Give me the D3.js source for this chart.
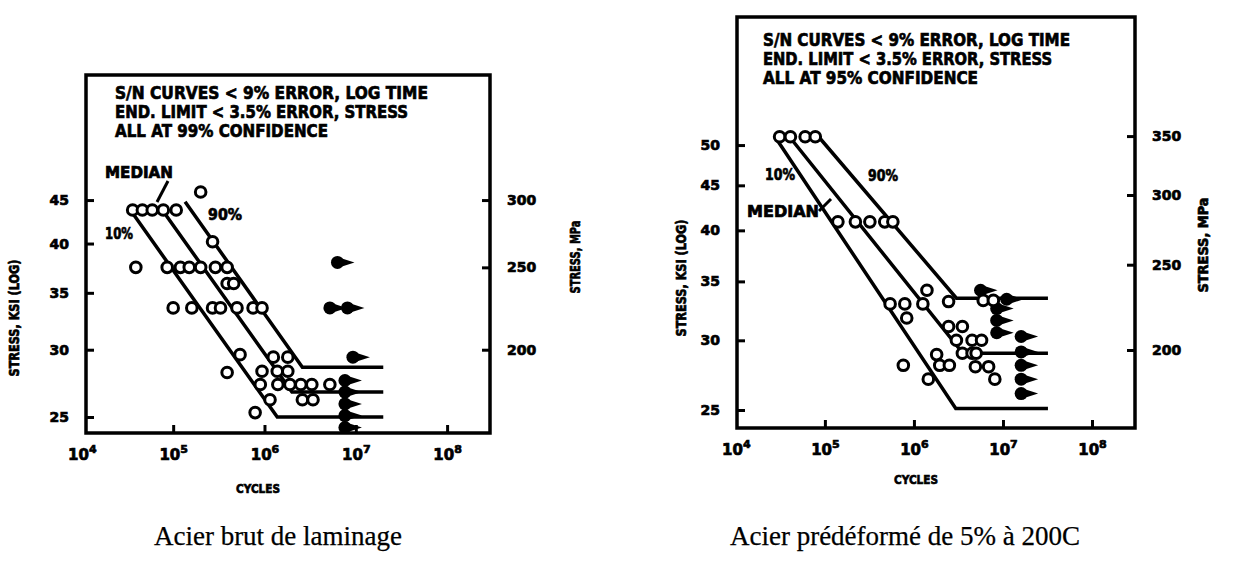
<!DOCTYPE html>
<html>
<head>
<meta charset="utf-8">
<script src="https://cdn.jsdelivr.net/npm/d3@7"></script>
<style>
body { margin: 0; background: #fff; }
.lab { font-family: "DejaVu Sans", sans-serif; font-weight: bold; fill: #000; stroke: #000; stroke-width: 0.7; }
.cap { font-family: "Liberation Serif", "Times New Roman", serif; fill: #000; stroke: #000; stroke-width: 0.25; }
</style>
</head>
<body>
<div class="diagram"></div>
<script>
var width = 1234, height = 561;

// axis ticks
var cycleTicks = [1e4, 1e5, 1e6, 1e7, 1e8];
var cycleExps = ['4', '5', '6', '7', '8'];
var ksiTicksA = [25, 30, 35, 40, 45];
var ksiTicksB = [25, 30, 35, 40, 45, 50];
var mpaTicksA = [200, 250, 300];
var mpaTicksB = [200, 250, 300, 350];

// note in the box
var noteA = ['S/N CURVES < 9% ERROR, LOG TIME', 'END. LIMIT < 3.5% ERROR, STRESS', 'ALL AT 99% CONFIDENCE'];
var noteB = ['S/N CURVES < 9% ERROR, LOG TIME', 'END. LIMIT < 3.5% ERROR, STRESS', 'ALL AT 95% CONFIDENCE'];

// left panel: as rolled  [cycles, ksi]
var curveA10 = [[3.4e4, 43.8], [1.38e6, 25.0], [2.0e7, 25.0]];
var curveAMed = [[7.6e4, 43.8], [2.0e6, 26.75], [2.0e7, 26.75]];
var curveA90 = [[1.35e5, 44.8], [2.6e6, 28.6], [2.0e7, 28.6]];
var failA = [
  [3.6e4, 43.8], [4.6e4, 43.8], [5.9e4, 43.8], [7.8e4, 43.8], [1.08e5, 43.8],
  [2.0e5, 46.0], [2.7e5, 40.2], [3.9e4, 37.5],
  [8.6e4, 37.5], [1.2e5, 37.5], [1.5e5, 37.5], [2.0e5, 37.5], [2.9e5, 37.5], [3.9e5, 37.5],
  [3.9e5, 35.9], [4.6e5, 35.9],
  [1.0e5, 33.6], [1.6e5, 33.6], [2.7e5, 33.6], [3.3e5, 33.6], [5.0e5, 33.6], [7.5e5, 33.6], [9.4e5, 33.6],
  [5.4e5, 29.6], [3.9e5, 28.2], [1.25e6, 29.4], [1.8e6, 29.4],
  [9.4e5, 28.3], [1.38e6, 28.3], [1.8e6, 28.3],
  [9.0e5, 27.3], [1.4e6, 27.3], [1.9e6, 27.3], [2.5e6, 27.3], [3.3e6, 27.3], [5.2e6, 27.3],
  [1.15e6, 26.2], [2.6e6, 26.2], [3.4e6, 26.2], [7.9e5, 25.3]
];
var runoutA = [
  [6.3e6, 38.0], [5.2e6, 33.6], [8.1e6, 33.6], [9.3e6, 29.4],
  [7.6e6, 27.6], [7.6e6, 26.75], [7.6e6, 25.9], [7.6e6, 25.1], [7.6e6, 24.3]
];

// right panel: 5% prestrained at 200C
var curveB10 = [[2.75e4, 51.1], [2.95e6, 25.1], [3.2e7, 25.1]];
var curveBMed = [[4.0e4, 51.1], [3.55e6, 29.0], [3.2e7, 29.0]];
var curveB90 = [[8.5e4, 51.1], [3.0e6, 33.5], [3.2e7, 33.5]];
var failB = [
  [3.1e4, 51.1], [4.1e4, 51.1], [6.0e4, 51.1], [7.8e4, 51.1],
  [1.4e5, 40.9], [2.2e5, 40.9], [3.2e5, 40.9], [4.7e5, 40.9], [5.8e5, 40.9],
  [5.4e5, 33.0], [7.9e5, 33.0], [8.3e5, 31.8], [1.26e6, 33.0], [1.4e6, 34.2],
  [7.6e5, 28.1], [1.8e6, 28.9], [1.95e6, 28.1], [2.5e6, 28.1], [1.45e6, 27.1],
  [2.45e6, 33.2], [2.45e6, 31.1], [3.5e6, 31.1], [3.0e6, 30.0], [4.5e6, 30.0], [5.75e6, 30.0],
  [3.5e6, 29.0], [4.5e6, 29.0], [5.0e6, 29.0], [4.9e6, 28.0], [6.9e6, 28.0], [8.1e6, 27.1],
  [6.0e6, 33.3], [7.8e6, 33.3]
];
var runoutB = [
  [5.6e6, 34.2], [1.1e7, 33.4], [8.5e6, 32.6], [8.5e6, 31.6], [8.5e6, 30.6],
  [1.6e7, 30.3], [1.6e7, 29.1], [1.6e7, 28.1], [1.6e7, 27.1], [1.6e7, 26.1]
];

var svg = d3.select('.diagram')
  .append('svg')
  .attr('width', width)
  .attr('height', height);

var line = function(x, y) {
  return d3.line().x(function(d) { return x(d[0]); }).y(function(d) { return y(d[1]); });
};

function drawPanel(p) {
  var x = d3.scaleLog().domain(p.xDomain).range([p.left, p.right]);
  var y = d3.scaleLog().domain(p.yDomain).range([p.bottom, p.top]);
  var yM = d3.scaleLog()
    .domain(p.yDomain.map(function(v) { return v * p.mpaFactor; }))
    .range([p.bottom, p.top]);
  var g = svg.append('g');

  // axes
  var ax = g.append('g')
    .attr('transform', 'translate(0,' + p.bottom + ')')
    .call(d3.axisBottom(x).tickValues(cycleTicks)
      .tickFormat(function() { return '10'; })
      .tickSize(-8).tickPadding(16));
  ax.selectAll('.tick').filter(function(d) { return d === 1e4; }).select('line').remove();

  var ay = g.append('g')
    .attr('transform', 'translate(' + p.left + ',0)')
    .call(d3.axisLeft(y).tickValues(p.ksiTicks).tickFormat(d3.format('d'))
      .tickSize(-8).tickPadding(17));

  var ar = g.append('g')
    .attr('transform', 'translate(' + p.right + ',0)')
    .call(d3.axisRight(yM).tickValues(p.mpaTicks).tickFormat(d3.format('d'))
      .tickSize(-8).tickPadding(17));

  [ax, ay, ar].forEach(function(a) {
    a.select('.domain').remove();
    a.selectAll('line').attr('stroke', '#000').attr('stroke-width', 3);
    a.selectAll('text').attr('class', 'lab').attr('font-size', 14).attr('font-family', null);
  });
  ax.selectAll('text')
    .attr('font-size', 15)
    .append('tspan')
    .attr('dy', -7)
    .attr('font-size', 11)
    .text(function(d, i) { return cycleExps[i]; });

  // frame
  g.append('rect')
    .attr('x', p.left).attr('y', p.top)
    .attr('width', p.right - p.left).attr('height', p.bottom - p.top)
    .attr('fill', 'none').attr('stroke', '#000').attr('stroke-width', 3.5);

  // S-N curves
  g.selectAll('.curve')
    .data(p.curves)
    .enter().append('path')
    .attr('class', 'curve')
    .attr('d', line(x, y))
    .attr('fill', 'none')
    .attr('stroke', '#000')
    .attr('stroke-width', 3.5);

  // run-outs (filled, arrow to the right)
  var ro = g.selectAll('.runout')
    .data(p.runouts)
    .enter().append('g')
    .attr('class', 'runout')
    .attr('transform', function(d) { return 'translate(' + x(d[0]) + ',' + y(d[1]) + ')'; });
  ro.append('circle').attr('r', 6.5).attr('fill', '#000');
  ro.append('path').attr('d', 'M3,-4.5L17,0L3,4.5Z').attr('fill', '#000');

  // failures
  g.selectAll('.fail')
    .data(p.fails)
    .enter().append('circle')
    .attr('class', 'fail')
    .attr('cx', function(d) { return x(d[0]); })
    .attr('cy', function(d) { return y(d[1]); })
    .attr('r', 5.3)
    .attr('fill', '#fff')
    .attr('stroke', '#000')
    .attr('stroke-width', 3);

  // note box text
  g.selectAll('.note')
    .data(p.note)
    .enter().append('text')
    .attr('class', 'lab')
    .attr('x', p.noteX)
    .attr('y', function(d, i) { return p.noteY + i * p.noteStep; })
    .attr('font-size', 17)
    .attr('textLength', function(d, i) { return p.noteLen[i]; })
    .attr('lengthAdjust', 'spacingAndGlyphs')
    .text(function(d) { return d; });

  // curve labels
  p.labels.forEach(function(l) {
    g.append('text').attr('class', 'lab')
      .attr('x', l.x).attr('y', l.y).attr('font-size', 15)
      .attr('textLength', l.len).attr('lengthAdjust', 'spacingAndGlyphs')
      .text(l.t);
  });
  g.append('path')
    .attr('d', 'M' + p.pointer[0] + 'L' + p.pointer[1])
    .attr('stroke', '#000').attr('stroke-width', 3);

  // axis titles
  g.append('text').attr('class', 'lab')
    .attr('transform', 'translate(' + p.ksiTitle[0] + ',' + p.ksiTitle[1] + ') rotate(-90)')
    .attr('text-anchor', 'middle').attr('font-size', 14)
    .attr('textLength', 117).attr('lengthAdjust', 'spacingAndGlyphs')
    .text('STRESS, KSI (LOG)');
  g.append('text').attr('class', 'lab')
    .attr('transform', 'translate(' + p.mpaTitle[0] + ',' + p.mpaTitle[1] + ') rotate(-90)')
    .attr('text-anchor', 'middle').attr('font-size', 14)
    .attr('textLength', p.mpaTitle[2]).attr('lengthAdjust', 'spacingAndGlyphs')
    .text('STRESS, MPa');
  g.append('text').attr('class', 'lab')
    .attr('x', p.cyclesTitle[0]).attr('y', p.cyclesTitle[1])
    .attr('text-anchor', 'middle').attr('font-size', 13)
    .attr('textLength', 44).attr('lengthAdjust', 'spacingAndGlyphs')
    .text('CYCLES');

  // caption
  g.append('text').attr('class', 'cap')
    .attr('x', p.caption[0]).attr('y', p.caption[1])
    .attr('text-anchor', 'middle').attr('font-size', 27)
    .text(p.caption[2]);
}

drawPanel({
  left: 86, right: 490, top: 75, bottom: 433,
  xDomain: [1.11e4, 2.95e8], yDomain: [23.94, 63.15], mpaFactor: 200 / 30,
  ksiTicks: ksiTicksA, mpaTicks: mpaTicksA,
  curves: [curveA10, curveAMed, curveA90], fails: failA, runouts: runoutA,
  note: noteA, noteX: 115, noteY: 99, noteStep: 19, noteLen: [313, 293, 213],
  labels: [
    { t: 'MEDIAN', x: 105, y: 178, len: 68 },
    { t: '10%', x: 105, y: 239, len: 28 },
    { t: '90%', x: 208, y: 220, len: 34 }
  ],
  pointer: [[168, 181], [157, 202]],
  ksiTitle: [19, 318], mpaTitle: [580, 257, 73], cyclesTitle: [258, 493],
  caption: [278, 545, 'Acier brut de laminage']
});

drawPanel({
  left: 737, right: 1135, top: 17, bottom: 428,
  xDomain: [1.03e4, 3.04e8], yDomain: [23.85, 69.9], mpaFactor: 200 / 29.25,
  ksiTicks: ksiTicksB, mpaTicks: mpaTicksB,
  curves: [curveB10, curveBMed, curveB90], fails: failB, runouts: runoutB,
  note: noteB, noteX: 763, noteY: 46, noteStep: 19, noteLen: [307, 289, 215],
  labels: [
    { t: '10%', x: 765, y: 180, len: 30 },
    { t: '90%', x: 868, y: 181, len: 30 },
    { t: 'MEDIAN', x: 747, y: 217, len: 72 }
  ],
  pointer: [[819, 211], [831, 199]],
  ksiTitle: [686, 278], mpaTitle: [1208, 245, 95], cyclesTitle: [916, 484],
  caption: [905, 545, 'Acier pr\u00e9d\u00e9form\u00e9 de 5% \u00e0 200C']
});
</script>
</body>
</html>
